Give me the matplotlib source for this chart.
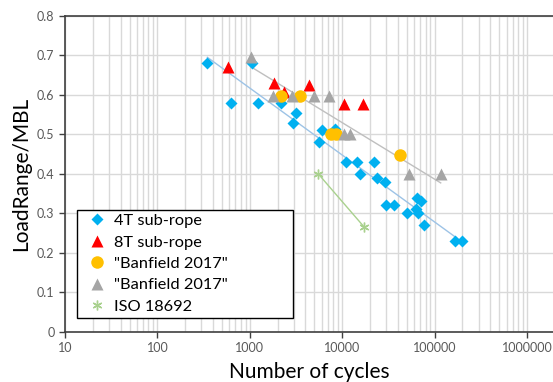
import numpy as np
import matplotlib.pyplot as plt

# fatigue data: load range / MBL against number of cycles
cyc_4t = [347, 630, 1047, 1227, 2178, 2910, 3142, 5650, 5998, 8360, 10920, 14450,
          15600, 22230, 23600, 29000, 29780, 36390, 50700, 62900, 63950, 66700,
          70700, 76800, 166500, 199400]
lr_4t = [0.68, 0.58, 0.68, 0.58, 0.58, 0.53, 0.555, 0.48, 0.51, 0.513, 0.43, 0.43,
         0.40, 0.43, 0.39, 0.38, 0.32, 0.32, 0.30, 0.31, 0.34, 0.30,
         0.33, 0.27, 0.23, 0.23]

cyc_8t = [577, 1828, 2327, 4404, 10540, 16680]
lr_8t = [0.672, 0.63, 0.607, 0.625, 0.578, 0.578]

cyc_banf1 = [2158, 3493, 7570, 8570, 42270]
lr_banf1 = [0.598, 0.598, 0.50, 0.50, 0.448]

cyc_banf2 = [1023, 1795, 2864, 4955, 7244, 10450, 12130, 52830, 116400]
lr_banf2 = [0.695, 0.598, 0.598, 0.598, 0.598, 0.50, 0.50, 0.40, 0.40]

cyc_iso = [5505, 17330]
lr_iso = [0.40, 0.265]

plt.rcParams['font.family'] = ['Lato', 'DejaVu Sans']

fig = plt.figure(figsize=(5.53, 3.82), dpi=100)
ax = fig.add_axes([65 / 553, 50.3 / 382, 1 - 65 / 553, 315.7 / 382])

ax.set_xscale('log')
ax.set_xlim(10, 10 ** (1 + 488 / 92.4))
ax.set_ylim(0, 0.8)
ax.set_yticks(np.arange(0, 0.81, 0.1))
ax.set_yticklabels(['0', '0.1', '0.2', '0.3', '0.4', '0.5', '0.6', '0.7', '0.8'])
ax.set_xticks([10, 100, 1000, 10000, 100000, 1000000])
ax.set_xticklabels(['10', '100', '1000', '10000', '100000', '1000000'])

ax.grid(True, which='major', color='#d9d9d9', lw=1)
ax.grid(True, which='minor', axis='x', color='#d9d9d9', lw=1)
ax.set_axisbelow(True)
ax.tick_params(which='minor', length=0)
ax.tick_params(which='major', length=4, width=1, color='#404040',
               labelsize=9, labelcolor='#595959')
for s in ['left', 'bottom', 'top']:
    ax.spines[s].set_color('#404040')
    ax.spines[s].set_linewidth(1.2)
ax.spines['right'].set_visible(False)


# log-linear trendlines like the spreadsheet ones
def trend(x, y, color):
    lx = np.log10(x)
    k, b = np.polyfit(lx, y, 1)
    xs = np.array([min(lx), max(lx)])
    ax.plot(10 ** xs, k * xs + b, color=color, lw=1, zorder=2)


trend(cyc_4t, lr_4t, '#9dc3e6')
trend(cyc_banf2, lr_banf2, '#bfbfbf')

ax.plot(cyc_4t, lr_4t, 'D', color='#00b0f0', ms=6, mec='none',
        label='4T sub-rope', zorder=3)
ax.plot(cyc_8t, lr_8t, '^', color='#ff0000', ms=8, mec='none',
        label='8T sub-rope', zorder=3)
ax.plot(cyc_banf1, lr_banf1, 'o', color='#ffc000', ms=9, mec='none',
        label='"Banfield 2017"', zorder=3)
ax.plot(cyc_banf2, lr_banf2, '^', color='#a5a5a5', ms=8, mec='none',
        label='"Banfield 2017"', zorder=3)
ax.plot(cyc_iso, lr_iso, '-', color='#a9d18e', lw=1, zorder=3)
ax.plot(cyc_iso, lr_iso, ls='none', color='#a9d18e', marker=(6, 2, 0), ms=7,
        mew=1, label='ISO 18692', zorder=3)

leg = ax.legend(loc='lower left', mode='expand',
                bbox_to_anchor=(12 / 488, 14 / 315.7, 216 / 488, 106 / 315.7),
                fontsize=11.8, frameon=True, fancybox=False, edgecolor='black',
                framealpha=1, handlelength=1.9, handletextpad=0.1,
                labelspacing=0.42, borderpad=0.25, borderaxespad=0)
leg.get_frame().set_linewidth(1)

ax.set_xlabel('Number of cycles', fontsize=15, labelpad=6)
ax.set_ylabel('LoadRange/MBL', fontsize=15, labelpad=4)

fig.savefig('out.png', dpi=100)
